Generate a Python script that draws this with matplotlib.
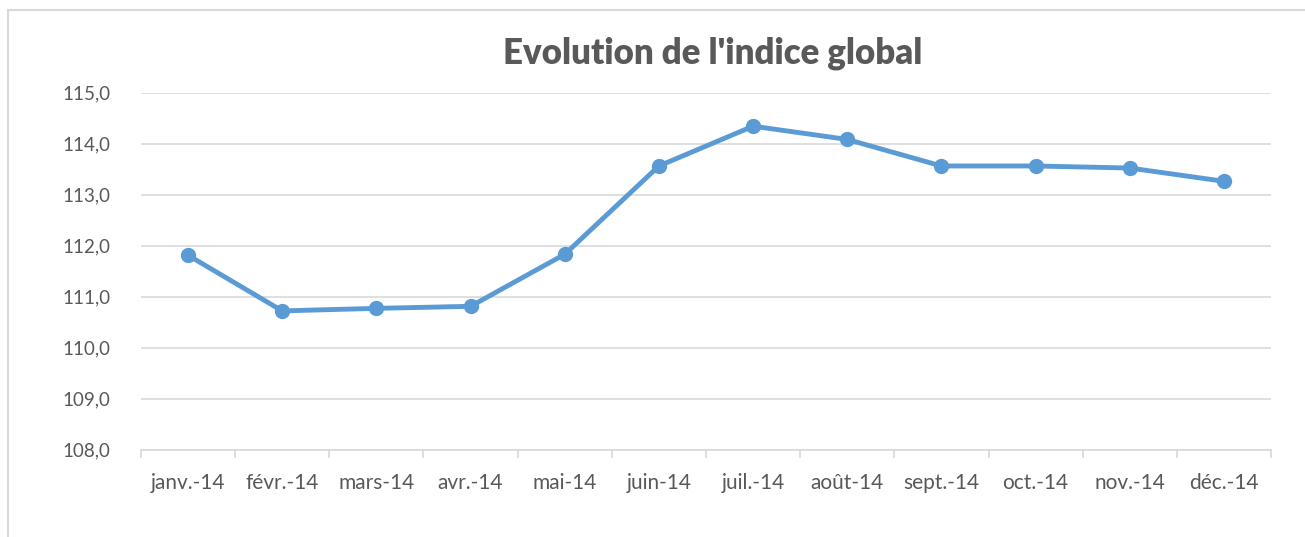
import numpy as np
import matplotlib.pyplot as plt
from matplotlib.patches import Rectangle

"""""""""""""""""""""""""""""""""""""""""""""""""""""""""
: Data
"""""""""""""""""""""""""""""""""""""""""""""""""""""""""
mois = ["janv.-14", "févr.-14", "mars-14", "avr.-14", "mai-14", "juin-14",
        "juil.-14", "août-14", "sept.-14", "oct.-14", "nov.-14", "déc.-14"]
indice = [111.81, 110.72, 110.77, 110.81, 111.83, 113.56,
          114.34, 114.08, 113.56, 113.56, 113.52, 113.26]
y_ticks = [108, 109, 110, 111, 112, 113, 114, 115]

"""""""""""""""""""""""""""""""""""""""""""""""""""""""""
: Plotting
"""""""""""""""""""""""""""""""""""""""""""""""""""""""""
plt.rcParams['font.family'] = ['Lato', 'DejaVu Sans']
gris = "#595959"
grille = "#D9D9D9"

fig = plt.figure(figsize=(13.05, 5.37), dpi=100)
fig.patches.append(Rectangle((8 / 1305, -0.1), 1.2, 1 - 10 / 537 + 0.1,
                             transform=fig.transFigure, fill=False,
                             edgecolor=grille, linewidth=1.5))

ax = fig.add_axes([141 / 1305, 1 - 449.7 / 537, 1130 / 1305, 357.2 / 537])
x = np.arange(len(mois))
ax.plot(x, indice, color="#5B9BD5", linewidth=3.5, marker="o",
        markersize=10, solid_capstyle="round", zorder=3)

ax.set_xlim(-0.5, len(mois) - 0.5)
ax.set_ylim(108, 115)
ax.set_yticks(y_ticks)
ax.set_yticklabels([f"{v:.1f}".replace(".", ",") for v in y_ticks])
ax.set_xticks(x)
ax.set_xticklabels(mois)
ax.set_xticks(np.arange(-0.5, len(mois)), minor=True)

ax.tick_params(axis="x", which="major", length=0, pad=17, labelsize=15, labelcolor=gris)
ax.tick_params(axis="x", which="minor", length=6, width=1.2, color=grille)
ax.tick_params(axis="y", length=0, pad=22, labelsize=13.5, labelcolor=gris)

ax.grid(axis="y", color=grille, linewidth=1.2)
ax.set_axisbelow(True)
for s in ["top", "right", "left"]:
    ax.spines[s].set_visible(False)
ax.spines["bottom"].set_color(grille)
ax.spines["bottom"].set_linewidth(1.2)

fig.text(713 / 1305, 1 - 53 / 537, "Evolution de l'indice global", ha="center",
         va="center", fontsize=25, fontweight="heavy", color=gris)

plt.savefig("out.png", dpi=100)
plt.close()
